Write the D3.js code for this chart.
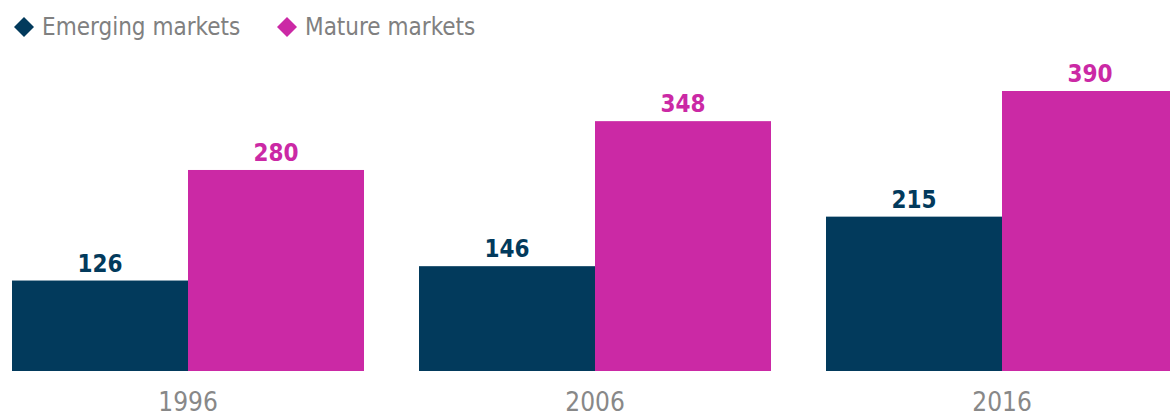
<!DOCTYPE html>
<html><head><meta charset="utf-8">
<script src="https://cdn.jsdelivr.net/npm/d3@7"></script>
<style>body{margin:0;background:#fff;}svg{display:block;}</style>
</head><body>
<svg id="c" width="1170" height="418"></svg>
<script>
const years = ["1996", "2006", "2016"];
const seriesNames = ["Emerging markets", "Mature markets"];
const emerging = [126, 146, 215];
const mature = [280, 348, 390];
const colors = ["#023a5c", "#cb29a5"];

const svg = d3.select("#c");
const font = "'DejaVu Sans Condensed', 'DejaVu Sans', sans-serif";
const x0 = d3.scaleBand().domain(years).range([12, 1178]).paddingInner(55/407).paddingOuter(0);
const x1 = d3.scaleBand().domain(seriesNames).range([0, x0.bandwidth()]).padding(0);
const y = d3.scaleLinear().domain([0, 390]).range([371, 91]);

const data = years.map((yr, i) => ({year: yr, vals: [emerging[i], mature[i]]}));

const g = svg.selectAll("g.grp").data(data).join("g").attr("class","grp")
  .attr("transform", d => `translate(${x0(d.year)},0)`);

g.selectAll("rect").data(d => d.vals.map((v, j) => ({v, j}))).join("rect")
  .attr("x", d => x1(seriesNames[d.j]))
  .attr("width", x1.bandwidth())
  .attr("y", d => y(d.v))
  .attr("height", d => y(0) - y(d.v))
  .attr("fill", d => colors[d.j]);

g.selectAll("text.val").data(d => d.vals.map((v, j) => ({v, j}))).join("text")
  .attr("class","val")
  .attr("x", d => x1(seriesNames[d.j]) + x1.bandwidth()/2)
  .attr("y", d => y(d.v) - 9)
  .attr("text-anchor","middle")
  .attr("font-family", font).attr("font-weight","bold").attr("font-size", 24)
  .attr("fill", d => colors[d.j])
  .text(d => d.v);

// x axis labels
const xAxis = d3.axisBottom(x0).tickSize(0).tickPadding(0);
const ax = svg.append("g").attr("transform","translate(0,393)").call(xAxis);
ax.select(".domain").remove();
ax.selectAll("text").attr("font-family", font).attr("font-size", 26).attr("fill","#888").attr("dy","0.71em");

// legend
const legX = [14, 277];
const leg = svg.selectAll("g.leg").data(seriesNames).join("g").attr("class","leg")
  .attr("transform", (d,i) => `translate(${legX[i]},27)`);
leg.append("path").attr("d", "M0,0 L10,-10 L20,0 L10,10 Z").attr("fill", (d,i) => colors[i]);
leg.append("text").attr("x", 28).attr("y", 8)
  .attr("font-family", font).attr("font-size", 24).attr("fill","#808080")
  .text(d => d);
</script>
</body></html>
